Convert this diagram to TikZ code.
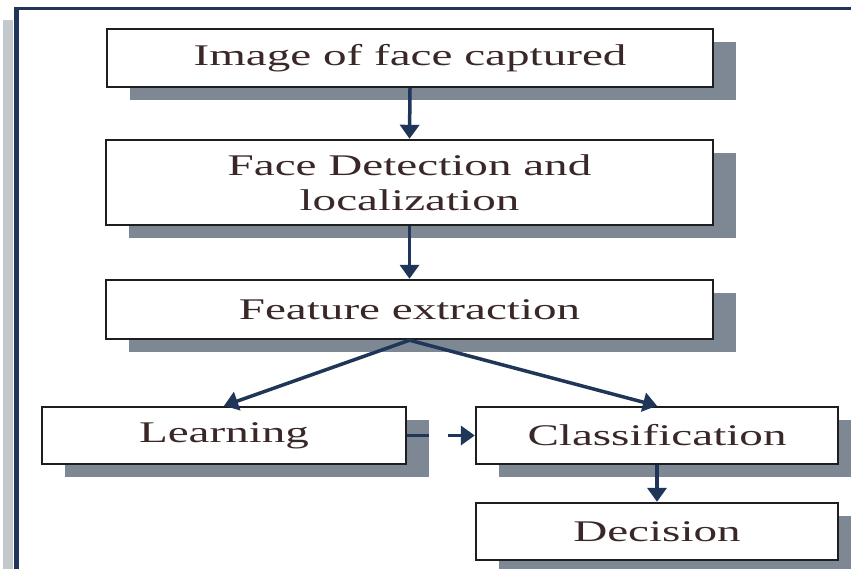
\documentclass[tikz,border=0pt]{standalone}
\usepackage{graphicx}
\usepackage{fontspec}
\setmainfont{Liberation Serif}
\usetikzlibrary{arrows.meta,shadows}

\definecolor{navy}{RGB}{31,54,88}
\definecolor{shadegray}{RGB}{125,136,148}
\definecolor{edgegray}{RGB}{195,200,205}
\definecolor{inkbrown}{RGB}{58,40,40}
\definecolor{boxline}{RGB}{30,30,30}

% the lettering is set wide
\newcommand{\widetext}[1]{\scalebox{1.57}[1]{#1}}

\begin{document}
\begin{tikzpicture}[x=1pt,y=-1pt,
  stage/.style={rectangle, draw=boxline, line width=2.4pt, fill=white, inner sep=0pt,
    drop shadow={shadow xshift=23pt, shadow yshift=-13pt, fill=shadegray, opacity=1},
    text=inkbrown, font=\fontsize{30}{35}\selectfont},
  flow/.style={draw=navy, line width=3.5pt, -{Triangle[length=14pt,width=19pt]}},
]
\fill[white] (0,0) rectangle (851,569);
\clip (0,0) rectangle (851,569);

% page frame
\fill[edgegray] (3,20) rectangle (13,569);
\draw[navy, line width=5pt] (16,7) -- (16,569);
\draw[navy, line width=3pt] (14,8.5) -- (851,8.5);

% stages
\node[stage, minimum width=606pt, minimum height=58pt] (capture) at (410,58)
  {\widetext{Image of face captured}};
\node[stage, minimum width=607pt, minimum height=85pt] (detect) at (409.5,182.5)
  {\raisebox{-4pt}[\height][\depth]{\widetext{\begin{tabular}{@{}c@{}}Face Detection and\\localization\end{tabular}}}};
\node[stage, minimum width=607pt, minimum height=59pt] (features) at (409.5,309.5)
  {\widetext{Feature extraction}};
\node[stage, minimum width=364pt, minimum height=57pt] (learn) at (224,435.5)
  {\widetext{Learning}};
\node[stage, minimum width=362pt, minimum height=57pt] (classify) at (657,435.5)
  {\widetext{Classification}};
\node[stage, minimum width=362pt, minimum height=57pt] (decide) at (657,531.5)
  {\widetext{Decision}};

% connectors
\draw[flow] (capture.south) -- (detect.north);
\draw[flow] (detect.south) -- (features.north);
\draw[flow] (features.south) -- (learn.north);
\draw[flow] (features.south) -- (classify.north);
\draw[flow, dash pattern=on 22pt off 19pt on 80pt] (learn.east) -- (classify.west);
\draw[flow] (classify.south) -- (decide.north);
\end{tikzpicture}
\end{document}
